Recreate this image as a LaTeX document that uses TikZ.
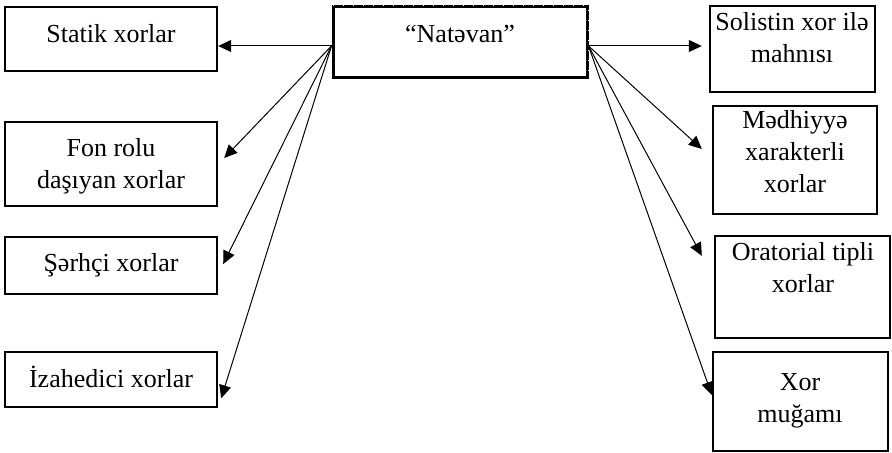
\documentclass[tikz,border=0pt]{standalone}
\usepackage{fontspec}
\setmainfont{Liberation Serif}
\usetikzlibrary{arrows.meta,fit}
\begin{document}
\begin{tikzpicture}[x=0.5pt,y=-0.5pt,
 box/.style={draw,line width=1.2pt,inner sep=0pt},
 lbl/.style={font=\fontsize{13}{16}\selectfont,align=center,anchor=base,inner sep=0pt},
 arr/.style={line width=0.5pt,-{Triangle[length=6.5pt,width=6pt]}}]
\useasboundingbox (0,0) rectangle (892,453);
% boxes
\node[box,line width=1.5pt,fit={(333,7) (587,78)}] (nat) {};
\draw[white,line width=0.4pt,dash pattern=on 0.4pt off 4.6pt] (nat.north west) rectangle (nat.south east);
\node[box,fit={(5,7) (217,71)}] (statik) {};
\node[box,fit={(5,122) (217,206)}] (fon) {};
\node[box,fit={(5,237) (217,294)}] (serh) {};
\node[box,fit={(5,352) (217,407)}] (izah) {};
\node[box,fit={(710,6) (875,92)}] (sol) {};
\node[box,fit={(713,106) (877,214)}] (med) {};
\node[box,fit={(715,236) (890,338)}] (ora) {};
\node[box,fit={(713,352) (888,451)}] (xor) {};
% labels (base = baseline of the last line)
\node[lbl] (tnat) at (460,43) {“Natəvan”};
\node[lbl] (tstat) at (111,43) {Statik xorlar};
\node[lbl] (tfon) at (111,189) {Fon rolu\\daşıyan xorlar};
\node[lbl] (tserh) at (111,272) {Şərhçi xorlar};
\node[lbl] (tizah) at (111,387) {İzahedici xorlar};
\node[lbl] (tsol) at (792,63) {Solistin xor ilə\\mahnısı};
\node[lbl] (tmed) at (795,193) {Mədhiyyə\\xarakterli\\xorlar};
\node[lbl] (tora) at (803,293) {Oratorial tipli\\xorlar};
\node[lbl] (txor) at (800,422) {Xor\\muğamı};
% connectors
\coordinate (nl) at ([yshift=-1.75pt]nat.west);
\coordinate (nr) at ([yshift=-1.75pt]nat.east);
\draw[arr] (nl) -- (statik.east |- nl);
\draw[arr] (nl) -- ([xshift=3pt,yshift=3pt]fon.east);
\draw[arr] (nl) -- ([xshift=2.5pt,yshift=0.75pt]serh.east);
\draw[arr] (nl) -- ([xshift=1.5pt,yshift=5pt]izah.south east);
\draw[arr,shorten >=3.5pt] (nr) -- (sol.west |- nr);
\draw[arr] (nr) -- ([xshift=-5pt,yshift=5.5pt]med.west);
\draw[arr] (nr) -- ([xshift=-6pt,yshift=-10.5pt]ora.north west);
\draw[arr] (nr) -- ([yshift=3.25pt]xor.west);
\end{tikzpicture}
\end{document}
